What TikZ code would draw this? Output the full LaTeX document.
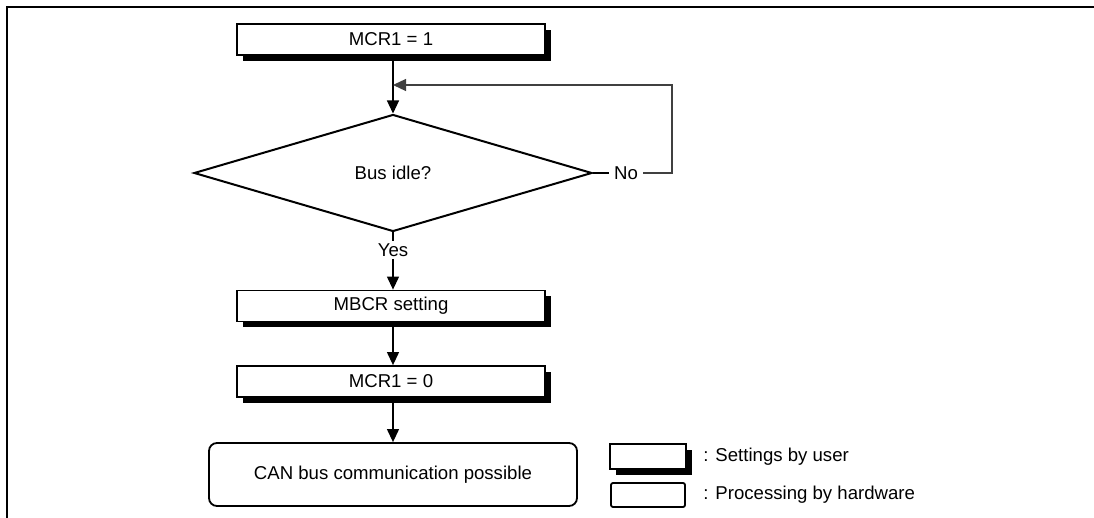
\documentclass[tikz,border=0pt]{standalone}
\usepackage{fontspec}
\setmainfont{Liberation Sans}
\usepackage{tikz}
\usetikzlibrary{arrows.meta, positioning, shapes.geometric, shadows}

\begin{document}
\begin{tikzpicture}[
    x=0.5pt, y=-0.5pt,
    every node/.style={font=\fontsize{9.3}{11}\selectfont},
    user/.style={rectangle, draw, fill=white, line width=0.9pt,
                 minimum width=154pt, minimum height=15.5pt, inner sep=0pt,
                 drop shadow={shadow xshift=2.8pt, shadow yshift=-2.8pt,
                              fill=black, opacity=1}},
    hw/.style={rectangle, draw, fill=white, line width=0.9pt, rounded corners=4pt,
               minimum width=184pt, minimum height=31.5pt, inner sep=0pt},
    dec/.style={diamond, draw, line width=1pt, minimum width=199pt,
                minimum height=58.5pt, inner sep=0pt},
    arr/.style={-{Triangle[length=6.5pt, width=6pt]}, line width=0.6pt},
    ln/.style={line width=0.6pt},
  ]
    \useasboundingbox (0,0) rectangle (1094,518);
    % open frame
    \draw[line width=1.2pt] (7,518) -- (7,7) -- (1094,7);
    % flow
    \node[user] (m1) at (391, 39.5) {MCR1 = 1};
    \node[dec] (idle) at (393, 173) {Bus idle?};
    \node[fill=white, inner sep=1pt] (yes) at (393, 250) {Yes};
    \node[user] (mbcr) at (391, 306) {MBCR setting};
    \node[user] (m0) at (391, 381.5) {MCR1 = 0};
    \node[hw] (can) at (393, 474.5) {CAN bus communication possible};
    \node[inner sep=2.5pt] (no) at (626, 173) {No};
    \coordinate (loopr) at (672, 85);
    \coordinate (loopin) at (393, 85);
    \draw[arr] (m1.south -| idle.north) -- (idle.north);
    \draw[ln] (idle.south) -- (yes.north);
    \draw[arr] (yes.south) -- (yes.south |- mbcr.north);
    \draw[arr] (mbcr.south -| idle.north) -- (idle.north |- m0.north);
    \draw[arr] (m0.south -| idle.north) -- (can.north);
    \draw[ln] (idle.east) -- (no.west);
    \draw[arr, black!75] (no.east) -| (loopr) -- (loopin);
    % legend
    \node[user, minimum width=38pt, minimum height=12.5pt] (kuser) at (648, 456.5) {};
    \node[hw, rounded corners=1pt, minimum width=37pt, minimum height=12pt] (khw) at (648, 495) {};
    \node[anchor=west, inner sep=0pt] (tuser) at (703, 457) {: Settings by user};
    \node[anchor=west, inner sep=0pt] (thw) at (703, 495) {: Processing by hardware};
  \end{tikzpicture}
\end{document}
